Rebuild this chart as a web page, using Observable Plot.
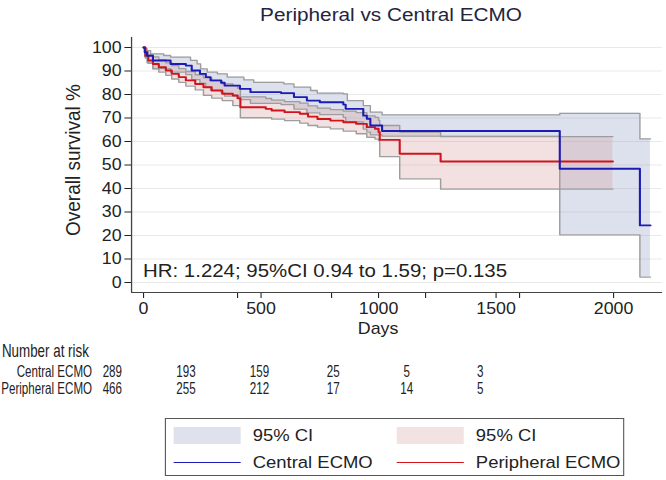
<!DOCTYPE html>
<html><head><meta charset="utf-8">
<script src="https://cdn.jsdelivr.net/npm/d3@7"></script>
<script src="https://cdn.jsdelivr.net/npm/@observablehq/plot@0.6"></script>
<style>
html,body{margin:0;padding:0;background:#fff;}
body{width:666px;height:480px;overflow:hidden;font-family:"Liberation Sans",Arial,sans-serif;color:#222;position:relative;}
#page{position:absolute;left:0;top:0;width:606px;height:480px;transform:scaleX(1.099);transform-origin:0 0;}
.abs{position:absolute;white-space:nowrap;line-height:1;}
#risk{position:absolute;left:0;top:338px;width:947px;height:70px;transform:scaleX(0.64);transform-origin:0 0;}
#legend{position:absolute;left:150px;top:418px;width:418px;height:58px;border:1px solid #555;background:#fff;box-sizing:border-box;}
.sw{position:absolute;width:61px;height:17px;}
.ln{position:absolute;width:61px;height:0;border-top:1.6px solid;}
.lt{position:absolute;font-size:16.8px;line-height:1;white-space:nowrap;color:#222;}
</style></head>
<body><div id="page">
<div class="abs" id="title" style="left:355.8px;top:5.5px;font-size:18.9px;color:#24243f;transform:translateX(-50%);">Peripheral vs Central ECMO</div>
<div id="main" style="position:absolute;left:0;top:0;"></div>
<div class="abs" id="ylab" style="left:65.5px;top:160px;font-size:19px;transform:translate(-50%,-50%) rotate(-90deg);">Overall survival %</div>
<div class="abs" id="xlab" style="left:344px;top:320px;font-size:16.2px;transform:translateX(-50%);">Days</div>
<div class="abs" id="hr" style="left:130.1px;top:262.3px;font-size:18.6px;"></div>
<div id="risk"><div class="abs" style="left:2.8px;top:2.5px;font-size:19px;">Number at risk</div></div>
<div id="legend">
  <div class="sw" style="left:7px;top:8px;background:#dfe2ec;"></div>
  <div class="lt" style="left:79px;top:9px;">95% CI</div>
  <div class="sw" style="left:210px;top:8px;background:#f3e2e2;"></div>
  <div class="lt" style="left:282px;top:9px;">95% CI</div>
  <div class="ln" style="left:7px;top:43px;border-color:#1c1cb4;"></div>
  <div class="lt" style="left:79px;top:36px;">Central ECMO</div>
  <div class="ln" style="left:210px;top:43px;border-color:#d0141e;"></div>
  <div class="lt" style="left:282px;top:36px;">Peripheral ECMO</div>
</div>
</div>
<script>
// ---- Kaplan–Meier data ----
const centralT  = [0,5,15,30,40,86,115,180,200,205,228,240,243,265,271,285,314,330,345,356,410,427,455,469,585,597,640,695,711,739,750,850,860,867,935,950,965,1015,1771,2112,2157];
const centralS  = [100,98,96.5,96.5,94.5,94.5,93,92.3,92.3,90.2,90.2,88.8,88.8,87.4,87.4,86,86,85,83.8,83.8,82.4,82.4,81,81,80.6,80.6,78.9,77.4,77.4,77.4,76.7,75.7,73.9,73.9,71,69.7,66.8,64.5,48.4,24.3,24.3];
const centralLo = [100,96,93.5,93.5,91,91,89.5,88.5,88.5,86.3,86.3,84.8,84.8,83.3,83.3,81.8,81.8,80.7,79.3,79.3,77.8,77.8,76.2,76.2,75.7,75.7,73.8,72.2,72.2,72.2,71.4,70.3,68.3,68.3,65.3,64,62.8,62.3,20.3,2.3,2.3];
const centralHi = [100,99.5,98.7,97.3,97.3,96.6,95.9,95.9,94.5,94.5,93,93,90.9,90.9,89.5,89.5,88.8,88.8,88.8,87.4,87.4,86.2,86.2,85.2,85.2,84.5,83.1,83.1,81.7,80.6,80.6,80.3,80.3,77.4,75.3,75.3,72.5,71.3,72,61.1,61.1];

const periphT  = [0,8,20,40,65,95,120,150,180,220,255,290,335,380,400,412,520,545,600,665,700,740,795,850,905,950,985,1000,1005,1090,1264,1997];
const periphS  = [100,96.5,94.5,93,91.6,90.2,88.8,87.4,86,84.5,83.1,81.7,80.3,79.6,78.4,74.6,73.9,73.2,72.5,71.8,70.6,69.6,68.9,68.2,67.5,66.1,65.4,64,60.7,54.8,51.5,51.5];
const periphLo = [100,95.5,93.3,90.9,89.5,88.1,86.6,85.2,83.6,82,79.6,78.5,77.4,75.3,75.3,70.1,70.1,69.5,68.9,67.8,66.8,66.1,65.4,64.4,63.3,61.8,61,60.4,53.6,44.1,39.7,39.7];
const periphHi = [100,98.5,97,96,94.8,93.5,92.3,91,89.8,88.4,87.1,85.8,84.5,83.8,82.7,79,78.3,77.6,77,76.3,75.2,74.2,73.6,72.9,72.3,70.9,70.3,69,66.8,64,62.1,62.1];

// ---- Number at risk ----
const groups = ["Central ECMO", "Peripheral ECMO"];
const riskTimes = [0,400,800,1200,1600,2000];
const riskCentral = [289,193,159,25,5,3];
const riskPeripheral = [466,255,212,17,14,5];

// ---- Axis ticks / stats ----
const yTicks = [0,10,20,30,40,50,60,70,80,90,100];
const xTicks = [0,400,500,800,1000,1200,1500,1600,2000];
const xLabelled = [0,500,1000,1500,2000];
const hrStats = {hr: "1.224", lo: "0.94", hi: "1.59", p: "0.135"};

const central = centralT.map((t,i)=>({t, s:centralS[i], lo:centralLo[i], hi:centralHi[i]}));
const periph  = periphT.map((t,i)=>({t, s:periphS[i], lo:periphLo[i], hi:periphHi[i]}));

const xDomain = [-51.06, 2208.5];
const yDomain = [-4.26, 104.26];

const ciStroke = "#9d9d9d";
const main = Plot.plot({
  width: 606, height: 345,
  marginLeft: 119.2, marginRight: 3.6, marginTop: 37, marginBottom: 53,
  style: {fontFamily: "Liberation Sans, Arial, sans-serif", fontSize: "16.2px", color: "#222", background: "transparent", overflow: "visible"},
  x: {domain: xDomain, ticks: xTicks, tickFormat: d => xLabelled.includes(d) ? String(d) : "", tickSize: 6, tickPadding: 4, label: null},
  y: {domain: yDomain, ticks: yTicks, tickSize: 6, tickPadding: 3, label: null},
  marks: [
    Plot.ruleY(yTicks, {stroke: "#e9e9e9", strokeWidth: 1}),
    Plot.areaY(central, {x: "t", y1: "lo", y2: "hi", curve: "step-after", fill: "#8c9bc4", fillOpacity: 0.3}),
    Plot.areaY(periph, {x: "t", y1: "lo", y2: "hi", curve: "step-after", fill: "#d89a9a", fillOpacity: 0.3}),
    Plot.line(central, {x: "t", y: "lo", curve: "step-after", stroke: ciStroke, strokeWidth: 1.3}),
    Plot.line(central, {x: "t", y: "hi", curve: "step-after", stroke: ciStroke, strokeWidth: 1.3}),
    Plot.line(periph, {x: "t", y: "lo", curve: "step-after", stroke: ciStroke, strokeWidth: 1.3}),
    Plot.line(periph, {x: "t", y: "hi", curve: "step-after", stroke: ciStroke, strokeWidth: 1.3}),
    Plot.line(periph, {x: "t", y: "s", curve: "step-after", stroke: "#d0141e", strokeWidth: 1.9}),
    Plot.line(central, {x: "t", y: "s", curve: "step-after", stroke: "#1c1cb4", strokeWidth: 1.9}),
    Plot.ruleX([xDomain[0]], {stroke: "#444", strokeWidth: 1.2}),
    Plot.ruleY([yDomain[0]], {stroke: "#444", strokeWidth: 1.2})
  ]
});
document.getElementById("main").appendChild(main);

document.getElementById("hr").textContent =
  `HR: ${hrStats.hr}; 95%CI ${hrStats.lo} to ${hrStats.hi}; p=${hrStats.p}`;

const riskRows = [];
riskTimes.forEach((t,i)=>{
  riskRows.push({t, g: groups[0], n: riskCentral[i]});
  riskRows.push({t, g: groups[1], n: riskPeripheral[i]});
});
const risk = Plot.plot({
  width: 947, height: 70,
  marginLeft: 159.2, marginRight: 264.6, marginTop: 0, marginBottom: 0,
  style: {fontFamily: "Liberation Sans, Arial, sans-serif", color: "#222", background: "transparent", overflow: "visible"},
  x: {domain: [0, 2000], axis: null},
  y: {type: "point", domain: groups, range: [33, 50.5], padding: 0, axis: null},
  marks: [
    Plot.text(riskRows, {x: "t", y: "g", text: d => String(d.n), fontSize: 16.5, fill: "#222"}),
    Plot.text(groups, {y: d => d, text: d => d, frameAnchor: "left", textAnchor: "end", dx: 130.4 - 159.2, fontSize: 16.5, fill: "#222"})
  ]
});
risk.style.position = "absolute";
risk.style.left = "0px";
risk.style.top = "0px";
document.getElementById("risk").appendChild(risk);
</script>
</body></html>
